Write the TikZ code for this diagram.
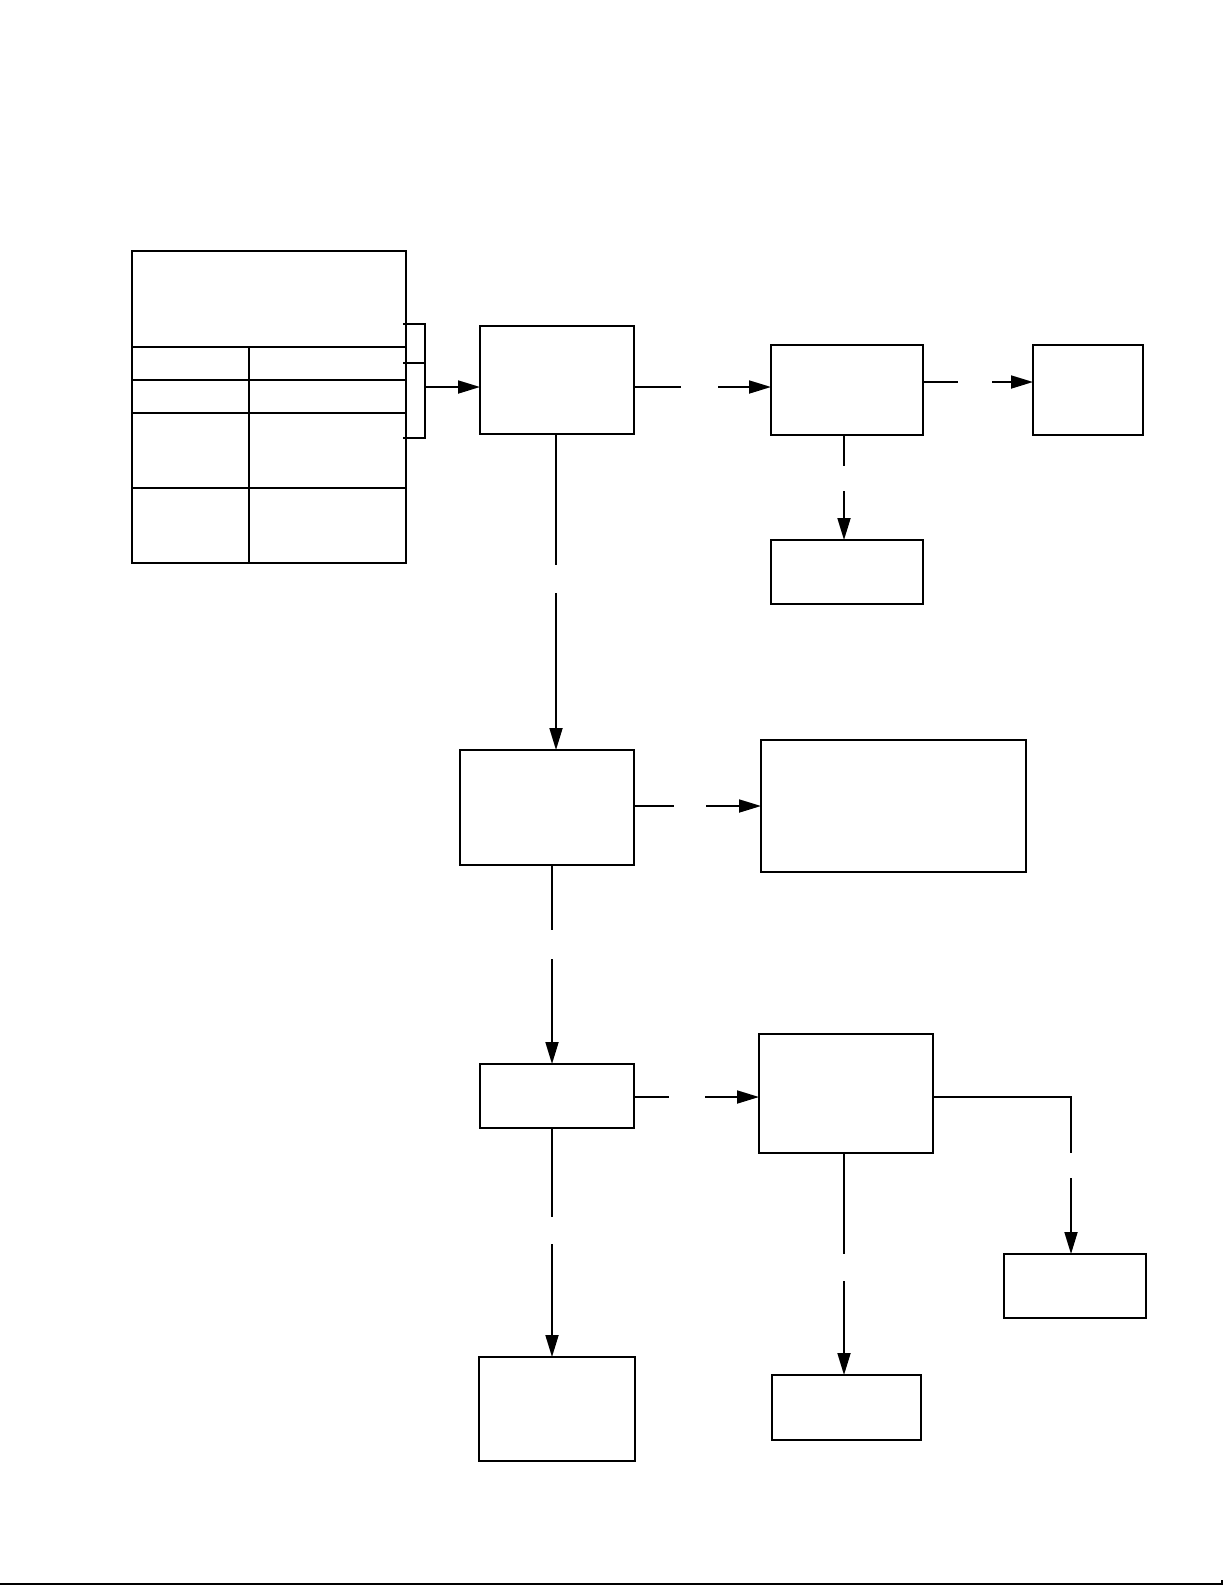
\documentclass[tikz,border=0pt]{standalone}
\usetikzlibrary{arrows.meta}
\tikzset{
  box/.style={draw, line width=1pt, inner sep=0pt, outer sep=0pt, rectangle},
  conn/.style={line width=0.9pt},
  arr/.style={line width=0.9pt, -{Triangle[length=11pt, width=6.5pt]}},
  rule/.style={line width=1pt}
}
\begin{document}
\begin{tikzpicture}[x=0.5pt, y=-0.5pt]
\useasboundingbox (0,0) rectangle (1225,1585);
% table
\node[box, minimum width=137pt, minimum height=156pt] (tbl) at (269,407) {};
\draw[rule] (132,347) -- (406,347);
\draw[rule] (132,380) -- (406,380);
\draw[rule] (132,413) -- (406,413);
\draw[rule] (132,488) -- (406,488);
\draw[rule] (249,347) -- (249,563);
% bracket
\coordinate (bt) at (425,324);
\coordinate (bm) at (425,363);
\coordinate (bb) at (425,438);
\coordinate (brk) at (425,387);
\draw[rule] (403,324) -- (bt) -- (bb) -- (403,438);
\draw[rule] (403,363) -- (bm);
% boxes
\node[box, minimum width=77pt, minimum height=54pt] (A) at (557,380) {};
\node[box, minimum width=76pt, minimum height=45pt] (B) at (847,390) {};
\node[box, minimum width=55pt, minimum height=45pt] (C) at (1088,390) {};
\node[box, minimum width=76pt, minimum height=32pt] (B2) at (847,572) {};
\node[box, minimum width=87pt, minimum height=57.5pt] (D) at (547,807.5) {};
\node[box, minimum width=132.5pt, minimum height=66pt] (E) at (893.5,806) {};
\node[box, minimum width=77pt, minimum height=32pt] (F) at (557,1096) {};
\node[box, minimum width=87pt, minimum height=59.5pt] (G) at (846,1093.5) {};
\node[box, minimum width=71pt, minimum height=32pt] (H) at (1075,1286) {};
\node[box, minimum width=74.5pt, minimum height=32.5pt] (I) at (846.5,1407.5) {};
\node[box, minimum width=78pt, minimum height=52pt] (J) at (557,1409) {};
% connectors
\draw[arr] (brk) -- (brk -| A.west);
% A -> B
\coordinate (ab1) at (681,387); \coordinate (ab2) at (718,387);
\draw[conn] (ab1 -| A.east) -- (ab1);
\draw[arr] (ab2) -- (ab2 -| B.west);
% B -> C
\coordinate (bc1) at (958,382); \coordinate (bc2) at (992,382);
\draw[conn] (bc1 -| B.east) -- (bc1);
\draw[arr] (bc2) -- (bc2 -| C.west);
% B -> B2
\coordinate (bd1) at (844,466); \coordinate (bd2) at (844,491);
\draw[conn] (bd1 |- B.south) -- (bd1);
\draw[arr] (bd2) -- (bd2 |- B2.north);
% A -> D
\coordinate (ad1) at (556,565); \coordinate (ad2) at (556,593);
\draw[conn] (ad1 |- A.south) -- (ad1);
\draw[arr] (ad2) -- (ad2 |- D.north);
% D -> E
\coordinate (de1) at (674,806); \coordinate (de2) at (706,806);
\draw[conn] (de1 -| D.east) -- (de1);
\draw[arr] (de2) -- (de2 -| E.west);
% D -> F
\coordinate (dd1) at (552,930); \coordinate (dd2) at (552,959);
\draw[conn] (dd1 |- D.south) -- (dd1);
\draw[arr] (dd2) -- (dd2 |- F.north);
% F -> G
\coordinate (fg1) at (669,1097); \coordinate (fg2) at (705,1097);
\draw[conn] (fg1 -| F.east) -- (fg1);
\draw[arr] (fg2) -- (fg2 -| G.west);
% G -> H
\coordinate (gh0) at (1071,1097);
\coordinate (gh1) at (1071,1153); \coordinate (gh2) at (1071,1178);
\draw[conn] (gh0 -| G.east) -- (gh0) -- (gh1);
\draw[arr] (gh2) -- (gh2 |- H.north);
% G -> I
\coordinate (gd1) at (844,1254); \coordinate (gd2) at (844,1281);
\draw[conn] (gd1 |- G.south) -- (gd1);
\draw[arr] (gd2) -- (gd2 |- I.north);
% F -> J
\coordinate (fd1) at (552,1217); \coordinate (fd2) at (552,1244);
\draw[conn] (fd1 |- F.south) -- (fd1);
\draw[arr] (fd2) -- (fd2 |- J.north);
% bottom rule
\coordinate (r0) at (0,1584); \coordinate (r1) at (1222,1584); \coordinate (r2) at (1222,1580);
\draw[rule] (r0) -- (r1) -- (r2);
\end{tikzpicture}
\end{document}
